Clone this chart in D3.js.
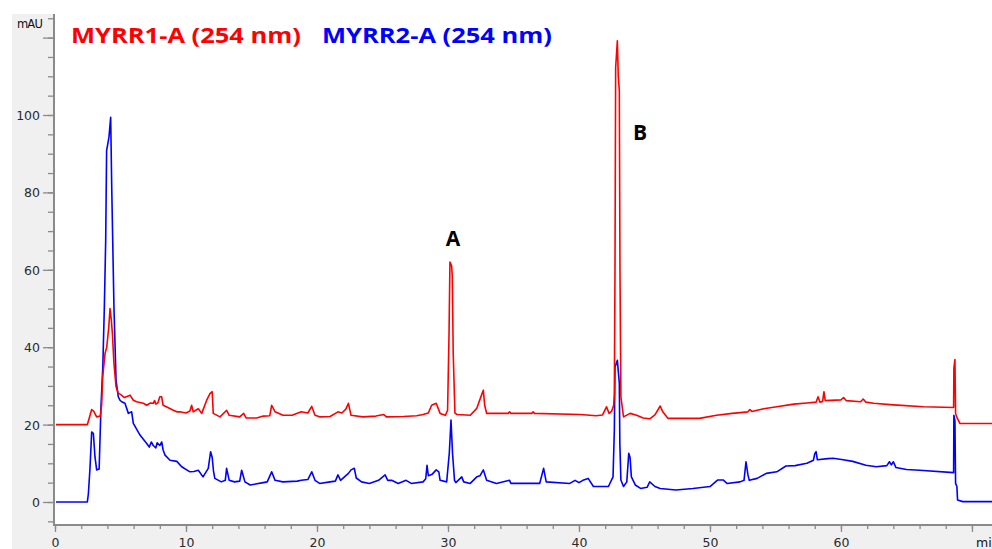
<!DOCTYPE html>
<html><head><meta charset="utf-8">
<script src="https://cdn.jsdelivr.net/npm/d3@7"></script>
<style>html,body{margin:0;padding:0;background:#fff;}svg{display:block;}</style>
</head><body>
<svg id="c" width="992" height="549"></svg>
<script>
// ---- data (time in min, absorbance in mAU) ----
const series = ["MYRR1-A (254 nm)", "MYRR2-A (254 nm)"];
const seriesColors = ["#ff0000", "#0000ff"];
const red_t = [0,2.47,2.6,2.8,2.95,3.18,3.45,3.56,3.64,3.82,3.95,4.1,4.2,4.3,4.38,4.5,4.66,4.83,5.0,5.3,5.73,5.98,6.23,6.74,7.0,7.3,7.5,7.6,7.7,7.85,8.0,8.14,8.25,8.5,9.03,9.3,9.54,10.0,10.3,10.43,10.55,10.94,11.2,11.58,11.83,12.0,12.08,12.6,13.1,13.3,14.1,14.4,14.6,15.4,15.9,16.4,16.54,16.8,17.4,18.1,18.8,19.3,19.6,19.85,20.2,21,21.6,21.9,22.2,22.4,22.6,23.5,24.5,25.1,25.3,26.6,27.6,28.1,28.5,28.75,29.1,29.4,29.8,29.97,30.08,30.15,30.28,30.33,30.4,30.53,30.7,31.7,32.2,32.6,32.7,32.8,32.95,34.6,34.7,34.8,36.4,36.5,36.6,40.1,41.3,41.8,42.1,42.3,42.5,42.65,42.7,42.75,42.8,42.93,43.0,43.08,43.13,43.2,43.4,43.9,44.4,44.9,45.4,45.8,46.2,46.4,46.8,49.2,50.5,51.7,52.9,53.05,53.2,54.1,55.1,56.4,57.4,58.1,58.25,58.4,58.6,58.7,58.8,60.0,60.2,60.4,61.5,61.7,61.9,62.5,64.0,66.3,68.6,68.62,68.7,68.75,68.83,69.08,71.6];
const red_v = [20,20,21.5,23.9,23.5,22,22.2,25,32.3,38.4,40,45,50,47,43.6,35.8,29.8,28.1,27.8,27.0,27.6,26.3,25.9,25.5,25.0,25.6,25.5,26.2,25.3,25.6,27.2,27.2,25,24.6,23.7,23.3,23.3,23.0,23.5,25,23.3,24.1,22.9,26.3,28.0,28.5,22.9,22,23.7,22.4,22,22.9,21.7,21.7,22.2,22.3,25,23.3,22.4,22.4,23.3,23.0,24.7,22.4,22,22.1,23.3,23.0,24.0,25.5,22.4,22,22.2,22.6,22,22.1,22.3,22.6,23.0,25,25.5,22.9,22.4,23.7,43.5,62,61,58,38.4,23,22.6,22.4,24.2,28.0,28.9,25,22.9,22.9,23.3,22.9,22.9,23.3,22.9,22.6,22.3,22.5,24.6,22.9,23.5,25,28,60.3,112.3,119.2,110,106.3,59.9,27.2,22,22.9,22.4,21.7,21.5,22.5,24.8,23.3,21.6,21.6,22.4,22.9,23.3,23.9,23.4,24.1,24.6,25.3,25.6,25.8,27.2,25.8,26,28.5,26.2,26.4,27,26.2,25.9,26.6,25.8,25.5,25.1,24.6,24.4,34.6,36.8,22.9,22.0,20.3,20.3];
const blue_t = [0,2.47,2.55,2.67,2.8,2.93,3.05,3.18,3.37,3.51,3.65,3.77,3.87,3.94,4.12,4.25,4.33,4.5,4.66,4.83,4.96,5.09,5.34,5.6,5.85,5.98,6.49,7.0,7.2,7.35,7.5,7.7,7.8,8.0,8.15,8.25,8.4,8.78,9.3,9.67,10.3,10.6,10.94,11.3,11.7,11.88,12.0,12.1,12.2,12.7,13.0,13.1,13.3,13.7,14.1,14.25,14.5,14.9,15.9,16.2,16.54,16.8,17.4,18.5,18.8,19.3,19.6,19.85,20.2,21,21.4,21.6,21.8,22.1,22.4,22.6,22.85,23.0,23.4,24.0,24.7,25.2,25.4,25.7,26.2,26.8,27.2,28.1,28.3,28.4,28.5,28.8,29.1,29.3,29.4,29.9,30.1,30.23,30.35,30.5,30.6,31.05,31.2,31.7,32.2,32.45,32.7,32.95,33.7,34.7,34.8,37.0,37.3,37.5,39.3,39.7,40.0,40.3,40.7,41.1,42.25,42.6,42.7,42.75,42.93,43.08,43.12,43.2,43.4,43.65,43.8,43.9,44.0,44.3,44.7,45.2,45.4,45.8,46.2,47.4,48.7,50.0,50.6,51.0,51.3,52.3,52.6,52.75,52.9,53.0,53.6,54.3,55.1,55.8,56.5,57.4,57.9,58.0,58.1,58.2,59.0,59.4,60.05,60.9,61.9,62.7,63.5,63.7,63.85,64.0,64.2,65.0,66.0,68.6,68.62,68.7,68.75,68.85,68.9,69.3,71.6];
const blue_v = [0,0,2.2,8.7,18.1,17.7,11.7,8.3,8.5,24.6,35,50.8,67.6,90.8,94.3,99.4,81.4,50.4,31.5,27.2,26.3,25.9,25.5,22.9,23.3,20.3,17.3,15.1,14.2,15.5,14.6,14.0,15.3,14.6,15.5,13.5,12.1,10.8,10.5,9.1,7.8,7.9,8.2,6.5,8.7,13.0,11.5,8,6.1,5.2,5.6,8.7,5.6,5.2,5.4,8.2,5.2,4.4,5.0,5.2,7.8,5.6,5.2,5.4,5.6,5.8,7.8,5.6,4.8,5.2,5.4,7.0,5.6,6.5,7.4,8.3,8.7,6.2,5.2,4.8,5.6,7.0,5.6,5.6,4.8,5.6,4.8,5.2,6.0,9.5,6.8,7.2,8.3,7.8,5.6,5.2,12.6,21.2,12.4,5.6,5.0,6.5,5.2,4.8,6.5,6.8,8.3,5.6,4.8,5.6,4.8,4.8,8.7,5.2,4.8,5.6,5.0,5.6,6.1,4.0,4.0,6.5,18.6,34.9,36.6,30.7,15.1,5.7,4.0,5.2,12.6,11.5,6.5,4.4,3.5,3.8,5.2,4.0,3.5,3.1,3.5,4.0,5.7,5.7,4.8,5.2,5.6,10.4,7,5.6,6.1,7.4,7.8,9.3,9.4,10.0,10.8,12.5,13.0,10.9,11.2,11.3,11.0,10.5,9.5,9.1,9.4,10.4,9.6,10.4,8.9,8.4,8.2,7.6,22.4,21,4.8,4.0,0.5,0.1,0.1];
const yLabelTicks = [0,20,40,60,80,100];
const yMajorTicks = [0,20,40,60,80,100,120];
const xLabelTicks = [0,10,20,30,40,50,60];
const xMajorTicks = [0,10,20,30,40,50,60,70];
const peakLabels = [{text:"A", t:30.38, v:65}, {text:"B", t:44.66, v:92}];
const yUnit = "mAU", xUnit = "min";

// ---- layout ----
const W = 992, H = 549;
const plot = {left:55, top:14, right:992, bottom:525};
const svg = d3.select("#c");
const x = d3.scaleLinear().domain([0, 71.53]).range([55, 992]);
const y = d3.scaleLinear().domain([0, 100]).range([502, 115]);
const axisGray = "#8a8a8a", labelColor = "#2a2a2a";
const tickFont = "DejaVu Sans, Verdana, sans-serif";

svg.append("rect").attr("x",12).attr("y",plot.top).attr("width",W-12).attr("height",H-plot.top).attr("fill","#f0f0f0");
svg.append("rect").attr("x",plot.left).attr("y",plot.top).attr("width",plot.right-plot.left).attr("height",plot.bottom-plot.top).attr("fill","#fff");

svg.append("clipPath").attr("id","pc").append("rect")
  .attr("x",plot.left+1).attr("y",plot.top).attr("width",plot.right-plot.left).attr("height",plot.bottom-plot.top-1);
svg.append("clipPath").attr("id","lc").append("rect").attr("x",12).attr("y",0).attr("width",W).attr("height",H);

// y axis
const yMinor = d3.range(-5, 126, 5);
const gyMin = svg.append("g").attr("transform","translate(54,0)")
  .call(d3.axisLeft(y).tickValues(yMinor).tickSize(6).tickFormat(""));
const gyMaj = svg.append("g").attr("transform","translate(54,0)")
  .call(d3.axisLeft(y).tickValues(yMajorTicks).tickSize(11).tickPadding(3)
    .tickFormat(d => yLabelTicks.includes(d) ? d : ""));
[gyMin, gyMaj].forEach(g => { g.select(".domain").remove();
  g.selectAll(".tick line").attr("stroke",axisGray).attr("stroke-width",1.3); });
gyMaj.selectAll("text").attr("fill",labelColor).style("font-family",tickFont).style("font-size","12.5px").attr("dy","0.36em");

// x axis
const xMinor = d3.range(0, 72, 2);
const gxMin = svg.append("g").attr("transform",`translate(0,${plot.bottom})`)
  .call(d3.axisBottom(x).tickValues(xMinor).tickSize(4).tickFormat(""));
const gxMaj = svg.append("g").attr("transform",`translate(0,${plot.bottom})`)
  .call(d3.axisBottom(x).tickValues(xMajorTicks).tickSize(7)
    .tickFormat(d => xLabelTicks.includes(d) ? d : ""));
[gxMin, gxMaj].forEach(g => { g.select(".domain").remove();
  g.selectAll(".tick line").attr("stroke",axisGray).attr("stroke-width",1.3); });
gxMaj.selectAll("text").attr("fill",labelColor).style("font-family",tickFont).style("font-size","12.5px")
  .attr("y",22).attr("dy","0");

// axis lines
svg.append("line").attr("x1",54).attr("x2",54).attr("y1",plot.top).attr("y2",plot.bottom+1)
  .attr("stroke",axisGray).attr("stroke-width",2);
svg.append("line").attr("x1",54).attr("x2",W).attr("y1",plot.bottom).attr("y2",plot.bottom)
  .attr("stroke",axisGray).attr("stroke-width",2);

// unit labels
svg.append("text").attr("clip-path","url(#lc)").attr("x",42).attr("y",28).attr("text-anchor","end")
  .attr("fill","#111").style("font-family",tickFont).style("font-size","11.5px").style("letter-spacing","-0.8px").text(yUnit);
svg.append("text").attr("x",976).attr("y",547).attr("fill","#111")
  .style("font-family",tickFont).style("font-size","12.5px").text(xUnit);

// traces
const lineGen = d3.line().x(d => x(d[0])).y(d => y(d[1]));
const redData = red_t.map((t,i) => [t, red_v[i]]);
const blueData = blue_t.map((t,i) => [t, blue_v[i]]);
const gl = svg.append("g").attr("clip-path","url(#pc)");
gl.append("path").datum(blueData).attr("d",lineGen).attr("fill","none").attr("stroke",seriesColors[1]).attr("stroke-width",1.6).attr("stroke-linejoin","round");
gl.append("path").datum(redData).attr("d",lineGen).attr("fill","none").attr("stroke",seriesColors[0]).attr("stroke-width",1.6).attr("stroke-linejoin","round");

// legend
const legFont = "'Open Sans', 'Noto Sans', sans-serif";
const legX = [71, 322];
series.forEach((s,i) => {
  svg.append("text").attr("x",legX[i]).attr("y",42.5).attr("fill",seriesColors[i])
    .style("font-family",legFont).style("font-weight","bold").style("font-size","22px")
    .attr("textLength",230).attr("lengthAdjust","spacingAndGlyphs").text(s);
});

// peak labels
svg.selectAll(".pk").data(peakLabels).enter().append("text").attr("class","pk")
  .attr("x", d => x(d.t))
  .attr("y", d => d.text === "A" ? 246 : 139.5)
  .attr("text-anchor","middle").attr("fill","#000")
  .style("font-family",legFont).style("font-weight","bold").style("font-size","21px")
  .text(d => d.text);
</script>
</body></html>
